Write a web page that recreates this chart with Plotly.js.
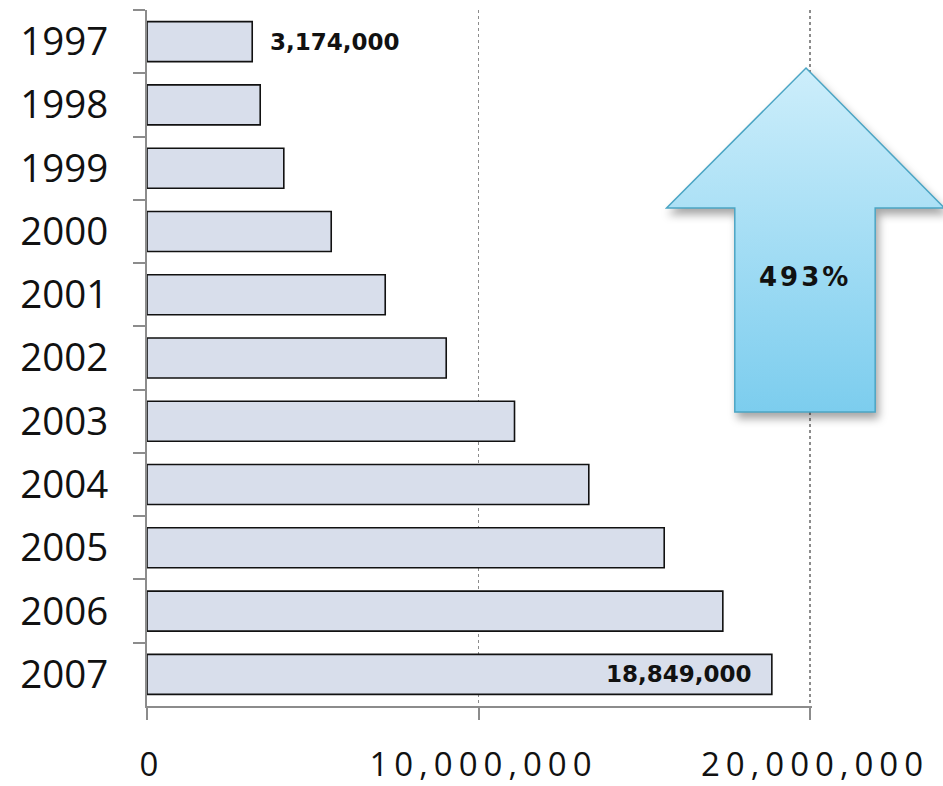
<!DOCTYPE html>
<html>
<head>
<meta charset="utf-8">
<script src="https://cdn.plot.ly/plotly-3.0.1.min.js"></script>
<style>
html,body{margin:0;padding:0;background:#fff}
#chart{width:943px;height:786px}
.xtick text{letter-spacing:6px}
.layer-above .shapelayer path[data-index="0"]{fill:url(#arrowGrad)!important;fill-opacity:1!important;filter:drop-shadow(3px 6px 4px rgba(0,0,0,0.35))}
.annotation[data-index="2"] text{letter-spacing:3px}
</style>
</head>
<body>
<svg width="0" height="0" style="position:absolute">
  <defs>
    <linearGradient id="arrowGrad" x1="0" y1="0" x2="0" y2="1">
      <stop offset="0" stop-color="#cdeefb"/>
      <stop offset="1" stop-color="#7ccdee"/>
    </linearGradient>
  </defs>
</svg>
<div id="chart"></div>
<script>
const years = ['1997','1998','1999','2000','2001','2002','2003','2004','2005','2006','2007'];
const visitors = [3174000, 3415000, 4127000, 5557000, 7186000, 9026000, 11086000, 13327000, 15602000, 17370000, 18849000];
const growthLabel = '493%';

const fmt = v => v.toLocaleString('en-US');
const last = visitors.length - 1;

const trace = {
  type: 'bar',
  orientation: 'h',
  x: visitors,
  y: years,
  marker: {color: '#d8deeb', line: {color: '#111111', width: 1.6}},
  hoverinfo: 'none'
};

const labelFont = {family: 'DejaVu Sans', size: 23, color: '#111', weight: 'bold'};

const layout = {
  width: 943,
  height: 786,
  margin: {l: 147, r: 131, t: 10, b: 80, pad: 0},
  paper_bgcolor: '#ffffff',
  plot_bgcolor: '#ffffff',
  showlegend: false,
  bargap: 0.368,
  xaxis: {
    range: [0, 20060000],
    dtick: 10000000,
    tick0: 0,
    tickformat: ',',
    showline: true,
    linecolor: '#8c8c8c',
    linewidth: 2,
    ticks: 'outside',
    ticklen: 12,
    tickwidth: 2,
    tickcolor: '#8c8c8c',
    showgrid: true,
    gridcolor: '#8c8c8c',
    gridwidth: 1.3,
    griddash: 'dot',
    zeroline: false,
    ticklabelstandoff: 16,
    ticklabelshift: 5,
    tickfont: {family: 'Open Sans', size: 33, color: '#111'}
  },
  yaxis: {
    type: 'category',
    categoryarray: years,
    categoryorder: 'array',
    range: [last + 0.5, -0.5],
    showline: true,
    linecolor: '#8c8c8c',
    linewidth: 2,
    ticks: 'outside',
    ticklen: 12,
    tickwidth: 2,
    tickcolor: '#8c8c8c',
    tickson: 'boundaries',
    showgrid: false,
    zeroline: false,
    ticklabelstandoff: 29,
    tickfont: {family: 'Open Sans', size: 38.5, color: '#111'}
  },
  shapes: [{
    type: 'path',
    xref: 'paper', yref: 'paper',
    layer: 'above',
    path: 'M 0.9910 0.9167 L 1.1991 0.7155 L 1.0950 0.7155 L 1.0950 0.4224 L 0.8839 0.4224 L 0.8839 0.7155 L 0.7813 0.7155 Z',
    fillcolor: '#a6dff5',
    line: {color: '#4ba5c4', width: 1.5}
  }],
  annotations: [
    {x: visitors[0], y: 0, xref: 'x', yref: 'y', text: fmt(visitors[0]), showarrow: false,
     xanchor: 'left', yanchor: 'middle', xshift: 16, font: labelFont},
    {x: visitors[last], y: last, xref: 'x', yref: 'y', text: fmt(visitors[last]), showarrow: false,
     xanchor: 'right', yanchor: 'middle', xshift: -18, font: labelFont},
    {x: 0.9894, y: 0.6157, xref: 'paper', yref: 'paper', text: growthLabel, showarrow: false,
     xanchor: 'center', yanchor: 'middle', font: {family: 'DejaVu Sans', size: 26, color: '#111', weight: 'bold'}}
  ]
};

Plotly.newPlot('chart', [trace], layout, {staticPlot: true, displayModeBar: false});
</script>
</body>
</html>
